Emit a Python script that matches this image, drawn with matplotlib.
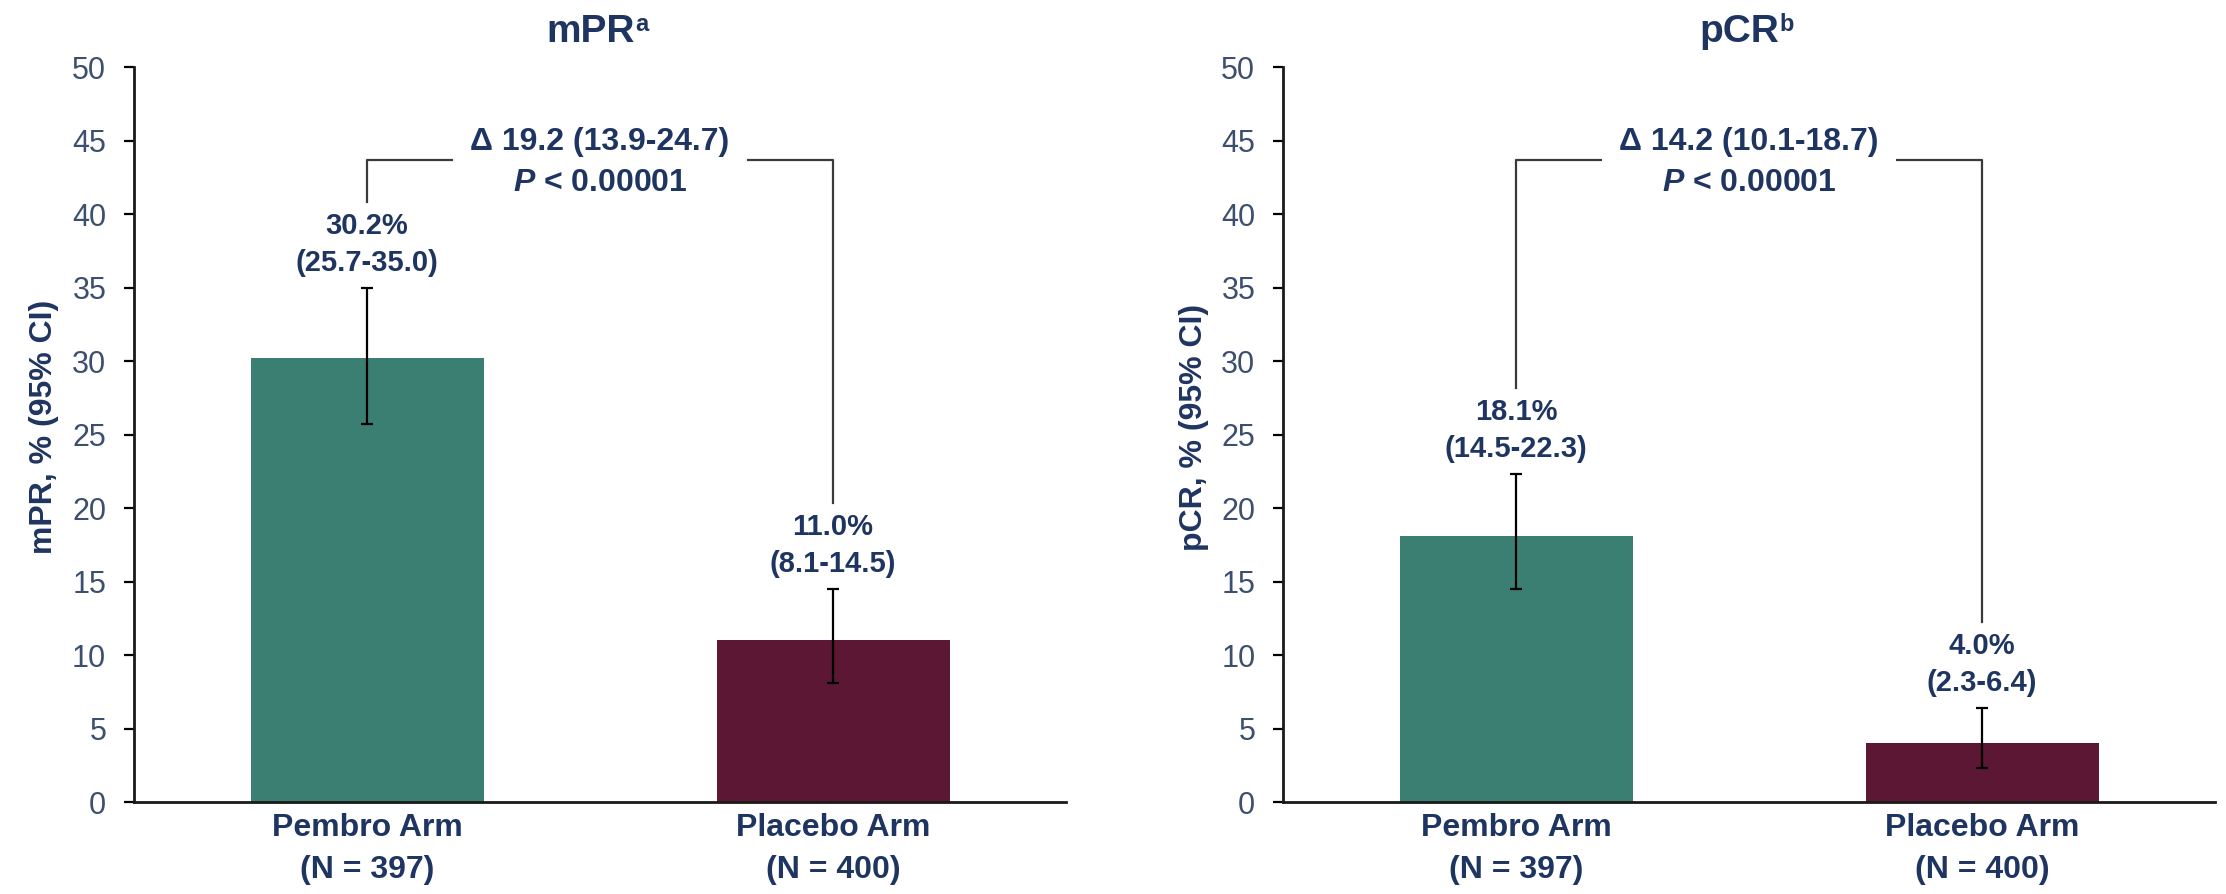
import matplotlib.pyplot as plt

plt.rcParams['font.family'] = ['Liberation Sans', 'DejaVu Sans']
plt.rcParams['mathtext.fontset'] = 'custom'
plt.rcParams['mathtext.rm'] = 'Liberation Sans:bold'
plt.rcParams['mathtext.bf'] = 'Liberation Sans:bold'
plt.rcParams['mathtext.it'] = 'Liberation Sans:italic:bold'

# data
arms = ['Pembro Arm\n(N = 397)', 'Placebo Arm\n(N = 400)']
mpr = [30.2, 11.0]
mpr_lo = [25.7, 8.1]
mpr_hi = [35.0, 14.5]
pcr = [18.1, 4.0]
pcr_lo = [14.5, 2.3]
pcr_hi = [22.3, 6.4]
titles = ['mPR', 'pCR']
title_sups = ['a', 'b']
ylabels = ['mPR, % (95% CI)', 'pCR, % (95% CI)']
deltas = ['Δ 19.2 (13.9-24.7)', 'Δ 14.2 (10.1-18.7)']
pvals = [r'$P$ < 0.00001', r'$P$ < 0.00001']
yticks = list(range(0, 55, 5))

bar_colors = ['#3b7f73', '#5b1734']
navy = '#1f3561'
tick_col = '#3d4f6e'


def panel(ax, vals, lo, hi, title, sup, ylabel, delta, pval):
    x = [0, 1]
    ax.bar(x, vals, width=0.5, color=bar_colors, zorder=2)
    err = [[v - l for v, l in zip(vals, lo)], [h - v for v, h in zip(vals, hi)]]
    ax.errorbar(x, vals, yerr=err, fmt='none', ecolor='black',
                elinewidth=1.6, capsize=4.2, capthick=1.6, zorder=3)

    for xi, v, l, h in zip(x, vals, lo, hi):
        ax.text(xi, h + 1.7, '(%.1f-%.1f)' % (l, h), ha='center', va='center',
                fontsize=21, fontweight='bold', color=navy)
        ax.text(xi, h + 4.2, '%.1f%%' % v, ha='center', va='center',
                fontsize=21, fontweight='bold', color=navy)

    # significance bracket
    yb = 43.7
    ax.plot([x[0], x[0], x[1], x[1]], [hi[0] + 5.85, yb, yb, hi[1] + 5.85],
            color='#3a3a3a', lw=1.6, zorder=1, clip_on=False)
    ax.text(0.5, 44.9, delta, ha='center', va='center', fontsize=23,
            fontweight='bold', color=navy, zorder=4,
            bbox=dict(boxstyle='square,pad=0.55', fc='white', ec='none'))
    ax.text(0.5, 42.1, pval, ha='center', va='center', fontsize=23,
            fontweight='bold', color=navy, zorder=4)

    ax.set_xlim(-0.5, 1.5)
    ax.set_ylim(0, 50)
    ax.set_yticks(yticks)
    ax.set_xticks(x)
    ax.set_xticklabels(arms, fontsize=23, fontweight='bold', color=navy,
                       linespacing=1.5)
    ax.tick_params(axis='x', length=0, pad=8)
    ax.tick_params(axis='y', direction='out', length=7, width=1.6,
                   labelsize=22, labelcolor=tick_col, pad=13)
    for s in ['top', 'right']:
        ax.spines[s].set_visible(False)
    for s in ['left', 'bottom']:
        ax.spines[s].set_linewidth(2)
        ax.spines[s].set_color('#1a1a1a')

    t = ax.text(0.49, 1.034, title, transform=ax.transAxes, ha='center',
                va='baseline', fontsize=28, fontweight='bold', color=navy)
    ax.annotate(sup, xy=(1, 0), xycoords=t, xytext=(0, 14),
                textcoords='offset points', ha='left', va='baseline',
                fontsize=17, fontweight='bold', color=navy)

    ax.set_ylabel(ylabel, fontsize=23, fontweight='bold', color=navy)
    ax.yaxis.set_label_coords(-0.08, 0.51)


fig = plt.figure(figsize=(22.26, 8.94), dpi=100)
ax1 = fig.add_axes([0.0602, 0.1029, 0.4187, 0.8221])
ax2 = fig.add_axes([0.5764, 0.1029, 0.4187, 0.8221])

panel(ax1, mpr, mpr_lo, mpr_hi, titles[0], title_sups[0], ylabels[0],
      deltas[0], pvals[0])
panel(ax2, pcr, pcr_lo, pcr_hi, titles[1], title_sups[1], ylabels[1],
      deltas[1], pvals[1])

fig.savefig('out.png', dpi=100, facecolor='white')
